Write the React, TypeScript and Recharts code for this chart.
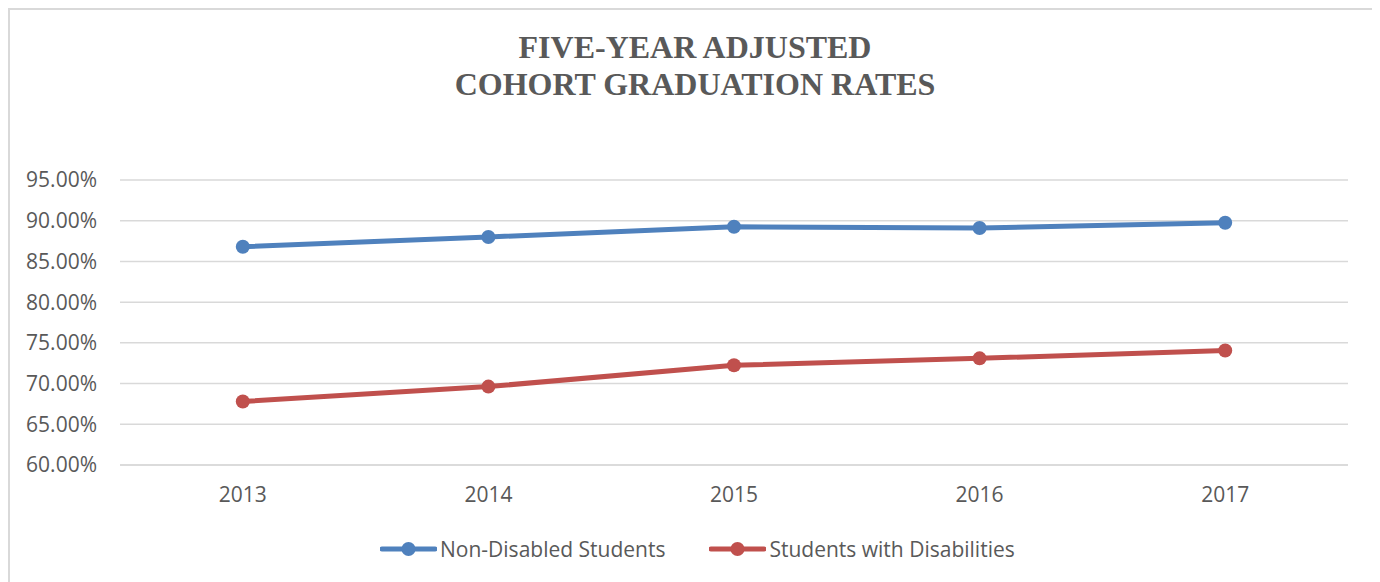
import { LineChart, Line, XAxis, YAxis, CartesianGrid } from 'recharts';

const years = ['2013', '2014', '2015', '2016', '2017'];
const nonDisabled = [0.868, 0.88, 0.8926, 0.891, 0.8975];
const withDisabilities = [0.678, 0.6963, 0.7225, 0.731, 0.7406];
const yTicks = [0.6, 0.65, 0.7, 0.75, 0.8, 0.85, 0.9, 0.95];

const BLUE = '#4F81BD';
const RED = '#C0504D';
const TEXT = '#595959';
const GRID = '#D9D9D9';
const FONT = '"Open Sans", "Noto Sans", sans-serif';

const data = years.map((year, i) => ({
  year,
  nonDisabled: nonDisabled[i],
  withDisabilities: withDisabilities[i],
}));

const series = [
  { key: 'nonDisabled', name: 'Non-Disabled Students', color: BLUE },
  { key: 'withDisabilities', name: 'Students with Disabilities', color: RED },
];

function LegendIcon({ color }: { color: string }) {
  return (
    <svg width={57} height={16} style={{ display: 'block' }}>
      <line x1={2} y1={8} x2={55} y2={8} stroke={color} strokeWidth={5} strokeLinecap="round" />
      <circle cx={28.5} cy={8} r={7} fill={color} />
    </svg>
  );
}

export default function App() {
  return (
    <div
      style={{
        position: 'relative',
        width: 1366,
        height: 600,
        border: `2px solid ${GRID}`,
        background: '#fff',
        fontFamily: FONT,
      }}
    >
      <style>{'body{overflow:hidden}'}</style>

      {/* title */}
      <div
        style={{
          position: 'absolute',
          top: 19,
          left: 2,
          width: 1366,
          textAlign: 'center',
          fontFamily: '"Liberation Serif", "DejaVu Serif", serif',
          fontWeight: 'bold',
          fontSize: 32,
          lineHeight: '37px',
          color: TEXT,
        }}
      >
        FIVE-YEAR ADJUSTED
        <br />
        COHORT GRADUATION RATES
      </div>

      <LineChart
        width={1366}
        height={572}
        data={data}
        margin={{ top: 170, right: 28, bottom: 77, left: 0 }}
      >
        <CartesianGrid vertical={false} stroke={GRID} strokeWidth={1.5} />
        <XAxis
          dataKey="year"
          padding={{ left: 122.8, right: 122.8 }}
          axisLine={{ stroke: GRID, strokeWidth: 1.5 }}
          tickLine={false}
          tickSize={0}
          tickMargin={22}
          height={40}
          tick={{ fill: TEXT, fontSize: 21, fontFamily: FONT }}
        />
        <YAxis
          width={110}
          domain={[0.6, 0.95]}
          ticks={yTicks}
          axisLine={false}
          tickLine={false}
          tickSize={0}
          tickMargin={23}
          tickFormatter={(v: number) => `${(v * 100).toFixed(2)}%`}
          tick={{ fill: TEXT, fontSize: 21, fontFamily: FONT }}
        />
        {series.map((s) => (
          <Line
            key={s.key}
            type="linear"
            dataKey={s.key}
            name={s.name}
            stroke={s.color}
            strokeWidth={5}
            dot={{ r: 7, fill: s.color, stroke: s.color, strokeWidth: 0 }}
            activeDot={false}
            isAnimationActive={false}
          />
        ))}
      </LineChart>

      {/* legend */}
      <div
        style={{
          position: 'absolute',
          top: 525,
          left: 370,
          display: 'flex',
          alignItems: 'center',
          gap: 44,
          fontSize: 21,
          color: TEXT,
        }}
      >
        {series.map((s) => (
          <div key={s.key} style={{ display: 'flex', alignItems: 'center', gap: 3 }}>
            <LegendIcon color={s.color} />
            <span>{s.name}</span>
          </div>
        ))}
      </div>
    </div>
  );
}
